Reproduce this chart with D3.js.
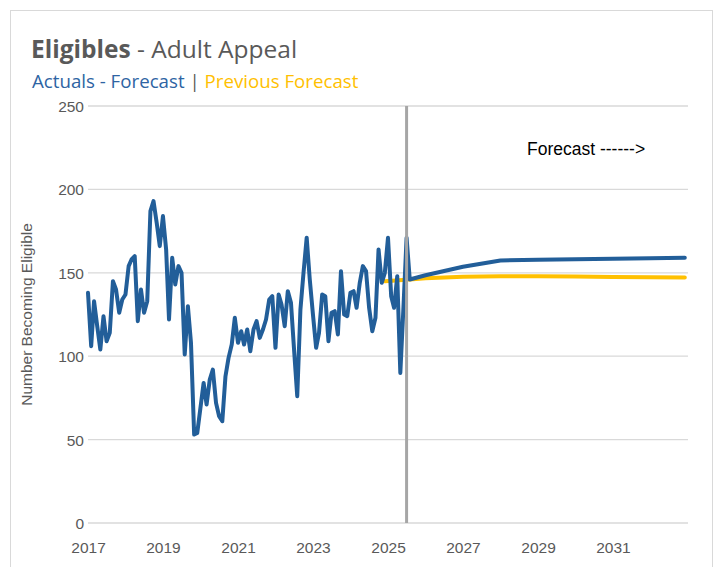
<!DOCTYPE html>
<html>
<head>
<meta charset="utf-8">
<script src="https://cdn.jsdelivr.net/npm/d3@7"></script>
<style>
  body { margin: 0; background: #fff; }
  text { font-family: 'Liberation Sans', Arial, sans-serif; }
</style>
</head>
<body>
<div id="chart"></div>
<script>
// monthly actuals, Jan 2017 .. Aug 2025
const actualStart = '2017-01-01';
const actualValues = [
  138, 106, 133, 118, 104, 124, 109, 114, 145, 140, 126, 134,
  137, 154, 158, 160, 121, 140, 126, 133, 187, 193, 180, 166,
  184, 164, 122, 159, 143, 154, 150, 101, 130, 108, 53, 54,
  69, 84, 71, 86, 92, 72, 64, 61, 88, 99, 107, 123,
  108, 115, 107, 116, 103, 116, 121, 111, 116, 122, 134, 136,
  105, 137, 131, 118, 139, 132, 104, 76, 128, 150, 171, 146,
  125, 105, 114, 137, 136, 109, 126, 127, 113, 151, 125, 124,
  138, 139, 129, 144, 154, 151, 129, 115, 123, 164, 144, 150,
  171, 136, 129, 148, 90, 130, 171, 146
];
// forecast continuation of the blue series
const forecastDates = ['2026-01-01', '2027-01-01', '2028-01-01', '2029-01-01', '2030-01-01', '2031-01-01', '2032-01-01', '2032-12-01'];
const forecastValues = [148.5, 153.6, 157.4, 157.8, 158.1, 158.4, 158.7, 159];
// previous forecast (yellow)
const prevDates = ['2024-12-01', '2025-08-01', '2026-01-01', '2027-01-01', '2028-01-01', '2029-01-01', '2030-01-01', '2031-01-01', '2032-01-01', '2032-12-01'];
const prevValues = [145, 146, 146.8, 147.6, 148, 148, 147.8, 147.5, 147.3, 147.2];
const yTicks = [0, 50, 100, 150, 200, 250];
const xTickYears = [2017, 2019, 2021, 2023, 2025, 2027, 2029, 2031];
const splitDate = '2025-07-01';

const parse = d3.timeParse('%Y-%m-%d');
const t0 = parse(actualStart);
const blueData = actualValues.map((v, i) => ({ date: d3.timeMonth.offset(t0, i), value: v }))
  .concat(forecastDates.map((d, i) => ({ date: parse(d), value: forecastValues[i] })));
const yellowData = prevDates.map((d, i) => ({ date: parse(d), value: prevValues[i] }));

const W = 722, H = 567;
const svg = d3.select('#chart').append('svg').attr('width', W).attr('height', H);

// chart frame
svg.append('rect').attr('x', 10.5).attr('y', 10.5).attr('width', 702).attr('height', 600)
  .attr('fill', '#fff').attr('stroke', '#d9d9d9');

const x = d3.scaleTime().domain([parse('2017-01-01'), parse('2033-01-01')]).range([88, 688]);
const y = d3.scaleLinear().domain([0, 250]).range([523, 106]);

// gridlines
svg.append('g').selectAll('line').data(yTicks).join('line')
  .attr('x1', 88).attr('x2', 688)
  .attr('y1', d => y(d)).attr('y2', d => y(d))
  .attr('stroke', '#d9d9d9').attr('stroke-width', 1.3);

// y axis labels
const yAxis = d3.axisLeft(y).tickValues(yTicks).tickSize(0).tickPadding(0);
const gy = svg.append('g').attr('transform', 'translate(84,0)').call(yAxis);
gy.select('.domain').remove();
gy.selectAll('text').attr('fill', '#595959').style('font-size', '15.5px').attr('dy', '0.35em');

// x axis labels
const xAxis = d3.axisBottom(x).tickValues(xTickYears.map(yr => new Date(yr, 0, 1)))
  .tickFormat(d3.timeFormat('%Y')).tickSize(0).tickPadding(0);
const gx = svg.append('g').attr('transform', 'translate(0,541)').call(xAxis);
gx.select('.domain').remove();
gx.selectAll('text').attr('fill', '#595959').style('font-size', '15.5px').attr('dy', '0.75em');

// y axis title
svg.append('text')
  .attr('transform', `translate(32,${(y(0) + y(250)) / 2}) rotate(-90)`)
  .attr('text-anchor', 'middle')
  .attr('fill', '#595959').style('font-size', '15.5px')
  .text('Number Becoming Eligible');

const line = d3.line().x(d => x(d.date)).y(d => y(d.value));

// previous forecast
svg.append('path').datum(yellowData)
  .attr('fill', 'none').attr('stroke', '#ffc000').attr('stroke-width', 4)
  .attr('stroke-linejoin', 'round').attr('stroke-linecap', 'round')
  .attr('d', line);

// actuals + forecast
svg.append('path').datum(blueData)
  .attr('fill', 'none').attr('stroke', '#225e99').attr('stroke-width', 4)
  .attr('stroke-linejoin', 'round').attr('stroke-linecap', 'round')
  .attr('d', line);

// forecast split marker
svg.append('line')
  .attr('x1', x(parse(splitDate))).attr('x2', x(parse(splitDate)))
  .attr('y1', y(250)).attr('y2', y(0))
  .attr('stroke', '#a6a6a6').attr('stroke-width', 3);

svg.append('text').attr('x', 527).attr('y', 155)
  .attr('fill', '#000').style('font-size', '17.5px')
  .text('Forecast ------>');

// titles
const title = svg.append('text').attr('x', 31).attr('y', 58)
  .attr('fill', '#595959').style('font-family', "'Open Sans', sans-serif").style('font-size', '24.5px');
title.append('tspan').attr('font-weight', 'bold').text('Eligibles');
title.append('tspan').text(' - Adult Appeal');

const sub = svg.append('text').attr('x', 32).attr('y', 88)
  .style('font-family', "'Open Sans', sans-serif").style('font-size', '18.7px');
sub.append('tspan').attr('fill', '#2e64a3').text('Actuals - Forecast');
sub.append('tspan').attr('fill', '#595959').text(' | ');
sub.append('tspan').attr('fill', '#ffc000').text('Previous Forecast');
</script>
</body>
</html>
